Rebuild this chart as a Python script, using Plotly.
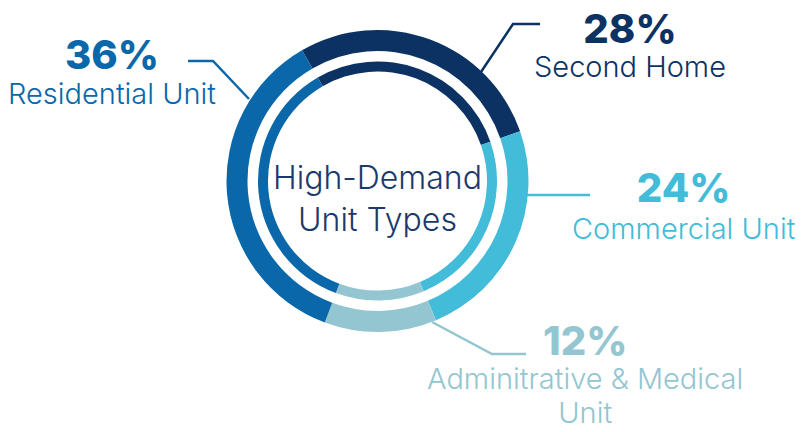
import plotly.graph_objects as go

# ---- data ----
categories = ["Second Home", "Commercial Unit", "Adminitrative & Medical<br>Unit", "Residential Unit"]
shares = [28, 24, 12, 36]
pct_labels = ["28%", "24%", "12%", "36%"]
colors = ["#0b3262", "#42bcd8", "#93c6d0", "#0a67a9"]
center_title = "High-Demand<br>Unit Types"

W, H = 805, 432
CX, CY = 377.5, 181.0


def dom(r):
    return dict(x=[(CX - r) / W, (CX + r) / W], y=[(H - CY - r) / H, (H - CY + r) / H])


def px(x, y):
    return x / W, 1 - y / H


fig = go.Figure()
for r_out, r_in in [(151, 130), (119.5, 109.5)]:
    fig.add_trace(go.Pie(
        values=shares, labels=categories, sort=False, direction="clockwise",
        rotation=-30, hole=r_in / r_out, domain=dom(r_out),
        marker=dict(colors=colors, line=dict(width=0)),
        textinfo="none", hoverinfo="label+percent", showlegend=False,
    ))

# leader lines (pixel paths)
leaders = [
    ([(540, 24), (513, 24), (481, 72)], colors[0]),
    ([(590, 195), (527, 195)], colors[1]),
    ([(526, 354), (492, 354), (432, 322)], colors[2]),
    ([(188, 61), (213, 61), (249, 99)], colors[3]),
]
shapes = []
for pts, c in leaders:
    path = ""
    for i, (x, y) in enumerate(pts):
        xx, yy = px(x, y)
        path += ("M" if i == 0 else "L") + f"{xx},{yy} "
    shapes.append(dict(type="path", path=path, xref="paper", yref="paper",
                       line=dict(color=c, width=2.5)))

PF = "Inter"
# group centre (pixels) and base size that sets the line spacing
grp_pos = [(630, 44), (684, 204.5), (585, 372.5), (112, 70.8)]
grp_base = [26.5, 28.7, 26.2, 26.7]
anns = []
for i in range(4):
    x, y = px(*grp_pos[i])
    lines = categories[i].split("<br>")
    body = "<br>".join(f"<span style='font-size:29px;font-weight:300'>{t}</span>" for t in lines)
    txt = f"<span style='font-size:40px;font-weight:800'>{pct_labels[i]}</span><br>{body}"
    anns.append(dict(x=x, y=y, xref="paper", yref="paper", text=txt,
                     showarrow=False, xanchor="center", yanchor="middle", align="center",
                     font=dict(family=PF, size=grp_base[i], color=colors[i])))
x, y = px(CX, 198.7)
anns.append(dict(x=x, y=y, xref="paper", yref="paper", text=center_title,
                 showarrow=False, xanchor="center", yanchor="middle",
                 font=dict(family=PF, size=32, color="#1b3a6b", weight=300)))

fig.update_layout(width=W, height=H, margin=dict(l=0, r=0, t=0, b=0),
                  paper_bgcolor="white", plot_bgcolor="white",
                  shapes=shapes, annotations=anns)
fig.write_html("out.html", config={"displayModeBar": False},
               post_script="document.body.style.margin='0';")
